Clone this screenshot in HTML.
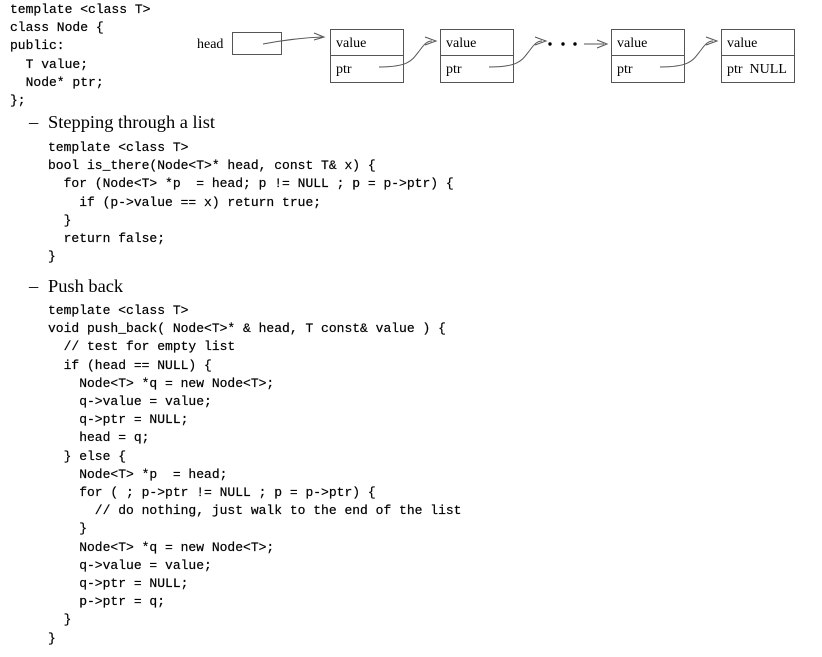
<!DOCTYPE html>
<html><head><meta charset="utf-8"><style>
body{margin:0;width:822px;height:657px;background:#fff;position:relative;overflow:hidden}
pre{margin:0;position:absolute;font-family:"Liberation Mono",monospace;font-size:13px;line-height:18.2px;color:#000;-webkit-text-stroke:0.2px #000}
.s{position:absolute;font-family:"Liberation Serif",serif;font-size:18.4px;color:#000}
</style></head><body>
<pre style="left:10px;top:1px">template &lt;class T&gt;
class Node {
public:
  T value;
  Node* ptr;
};</pre>
<div class="s" style="left:29px;top:112px">–</div><div class="s" style="left:48px;top:112px">Stepping through a list</div>
<pre style="left:48px;top:139px">template &lt;class T&gt;
bool is_there(Node&lt;T&gt;* head, const T&amp; x) {
  for (Node&lt;T&gt; *p  = head; p != NULL ; p = p-&gt;ptr) {
    if (p-&gt;value == x) return true;
  }
  return false;
}</pre>
<div class="s" style="left:29px;top:276px">–</div><div class="s" style="left:48px;top:276px">Push back</div>
<pre style="left:48px;top:302px">template &lt;class T&gt;
void push_back( Node&lt;T&gt;* &amp; head, T const&amp; value ) {
  // test for empty list
  if (head == NULL) {
    Node&lt;T&gt; *q = new Node&lt;T&gt;;
    q-&gt;value = value;
    q-&gt;ptr = NULL;
    head = q;
  } else {
    Node&lt;T&gt; *p  = head;
    for ( ; p-&gt;ptr != NULL ; p = p-&gt;ptr) {
      // do nothing, just walk to the end of the list
    }
    Node&lt;T&gt; *q = new Node&lt;T&gt;;
    q-&gt;value = value;
    q-&gt;ptr = NULL;
    p-&gt;ptr = q;
  }
}</pre>
<svg width="822" height="100" style="position:absolute;left:0;top:0" font-family="Liberation Serif, serif" font-size="14">
<g fill="none" stroke="#555" stroke-width="1">
<rect x="232.5" y="32.5" width="49" height="22"/>
<rect x="330.5" y="29.5" width="73" height="53"/><line x1="330" y1="55.5" x2="404" y2="55.5"/>
<rect x="440.5" y="29.5" width="73" height="53"/><line x1="440" y1="55.5" x2="514" y2="55.5"/>
<rect x="611.5" y="29.5" width="73" height="53"/><line x1="611" y1="55.5" x2="685" y2="55.5"/>
<rect x="721.5" y="29.5" width="73" height="53"/><line x1="721" y1="55.5" x2="795" y2="55.5"/>
<path d="M263 44 Q295 38 322 37"/><path d="M314 33 L324 37 L314 40"/>
<path d="M379 67 C410 67 412 60 420 50 C425 43 428 41 432 41"/><path d="M425 37 L436 41 L425 45"/>
<path d="M489 67 C520 67 522 60 530 50 C535 43 538 41 542 41"/><path d="M535 37 L546 41 L535 45"/>
<line x1="584" y1="44" x2="604" y2="44"/><path d="M597 40 L607 44 L597 48"/>
<path d="M660 67 C691 67 693 60 701 50 C706 43 709 41 713 41"/><path d="M706 37 L717 41 L706 45"/>
</g>
<g fill="#000"><circle cx="550" cy="44" r="1.7"/><circle cx="563" cy="44" r="1.7"/><circle cx="575" cy="44" r="1.7"/></g>
<text x="197" y="48">head</text>
<text x="336" y="47">value</text><text x="336" y="73">ptr</text>
<text x="446" y="47">value</text><text x="446" y="73">ptr</text>
<text x="617" y="47">value</text><text x="617" y="73">ptr</text>
<text x="727" y="47">value</text><text x="727" y="73">ptr&#160;&#160;NULL</text>
</svg>
</body></html>
